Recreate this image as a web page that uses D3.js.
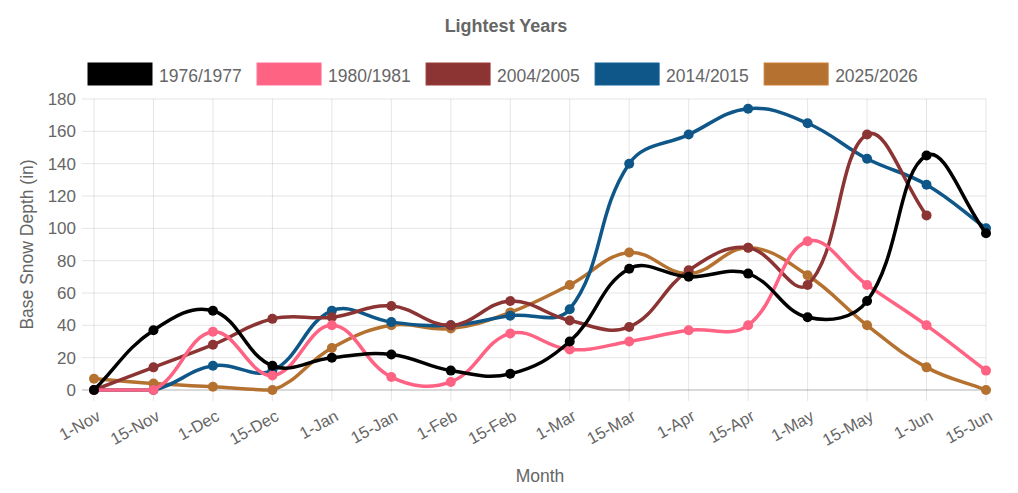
<!DOCTYPE html>
<html>
<head>
<meta charset="utf-8">
<script src="https://cdn.jsdelivr.net/npm/d3@7"></script>
<style>
  body { margin: 0; background: #fff; }
  text { font-family: "Liberation Sans", Arial, Helvetica, sans-serif; fill: #666; }
</style>
</head>
<body>
<svg id="chart" width="1018" height="493"></svg>
<script>
// tick labels along x
var months = ["1-Nov", "15-Nov", "1-Dec", "15-Dec", "1-Jan", "15-Jan", "1-Feb", "15-Feb",
	"1-Mar", "15-Mar", "1-Apr", "15-Apr", "1-May", "15-May", "1-Jun", "15-Jun"];

var seasons = ["1976/1977", "1980/1981", "2004/2005", "2014/2015", "2025/2026"];
var colors = ["#000000", "#ff6384", "#8b3433", "#0e5788", "#b5712f"];

// base depth (in)
var d1976 = [0, 37, 49, 15, 20, 22, 12, 10, 30, 75, 70, 72, 45, 55, 145, 97];
var d1980 = [0, 0, 36, 9, 40, 8, 5, 35, 25, 30, 37, 40, 92, 65, 40, 12];
var d2004 = [0, 14, 28, 44, 45, 52, 40, 55, 43, 39, 74, 88, 65, 158, 108, null];
var d2014 = [0, 0, 15, 12, 49, 42, 40, 46, 50, 140, 158, 174, 165, 143, 127, 100];
var d2025 = [7, 4, 2, 0, 26, 40, 38, 48, 65, 85, 72, 88, 71, 40, 14, 0];

var yTicks = [0, 20, 40, 60, 80, 100, 120, 140, 160, 180];

var series = [d1976, d1980, d2004, d2014, d2025].map(function (vals, i) {
	return { name: seasons[i], color: colors[i], values: vals };
});

var svg = d3.select("#chart");
var pLeft = 94, pRight = 986, pTop = 99, pBottom = 390;

var x = d3.scalePoint().domain(months).range([pLeft, pRight]);
var y = d3.scaleLinear().domain([0, 180]).range([pBottom, pTop]);

// grid
var grid = svg.append("g");
grid.selectAll(".vg").data(months).enter().append("line")
	.attr("x1", function (d) { return x(d); })
	.attr("x2", function (d) { return x(d); })
	.attr("y1", pTop).attr("y2", pBottom + 11)
	.attr("stroke", "rgba(0,0,0,0.1)").attr("stroke-width", 1);
grid.selectAll(".hg").data(yTicks).enter().append("line")
	.attr("x1", pLeft - 12).attr("x2", pRight)
	.attr("y1", function (d) { return y(d); })
	.attr("y2", function (d) { return y(d); })
	.attr("stroke", function (d) { return d === 0 ? "rgba(0,0,0,0.2)" : "rgba(0,0,0,0.1)"; })
	.attr("stroke-width", function (d) { return d === 0 ? 1.5 : 1; });

// axes (labels only, lines come from the grid)
var yAxis = svg.append("g").attr("transform", "translate(" + (pLeft - 18) + ",0)")
	.call(d3.axisLeft(y).tickValues(yTicks).tickSize(0).tickPadding(0));
yAxis.select(".domain").remove();
yAxis.selectAll("text").style("font-size", "17px").attr("fill", "#666");

var xAxis = svg.append("g").attr("transform", "translate(0," + (pBottom + 20) + ")")
	.call(d3.axisBottom(x).tickSize(0).tickPadding(0));
xAxis.select(".domain").remove();
xAxis.selectAll("text")
	.style("font-size", "16.5px").attr("fill", "#666")
	.attr("text-anchor", "end")
	.attr("y", 0).attr("dy", "0.71em").attr("dx", "0.1em")
	.attr("transform", "rotate(-29)");

// titles
svg.append("text").attr("x", 506).attr("y", 32).attr("text-anchor", "middle")
	.style("font-size", "18px").style("font-weight", "bold").text("Lightest Years");
svg.append("text").attr("x", (pLeft + pRight) / 2).attr("y", 482).attr("text-anchor", "middle")
	.style("font-size", "17.5px").text("Month");
svg.append("text").attr("transform", "translate(33," + ((pTop + pBottom) / 2) + ") rotate(-90)")
	.attr("text-anchor", "middle").style("font-size", "17.5px").text("Base Snow Depth (in)");

// chart.js style spline (tension 0.4), control points kept inside the plot
function splinePath(vals) {
	var pts = [];
	vals.forEach(function (v, i) {
		if (v != null) pts.push({ x: x(months[i]), y: y(v) });
	});
	var t = 0.4;
	pts.forEach(function (p, i) {
		var prev = pts[i - 1] || p, next = pts[i + 1] || p;
		var d01 = Math.hypot(p.x - prev.x, p.y - prev.y);
		var d12 = Math.hypot(next.x - p.x, next.y - p.y);
		var s01 = d01 / (d01 + d12) || 0, s12 = d12 / (d01 + d12) || 0;
		var fa = t * s01, fb = t * s12;
		p.cpPrev = { x: p.x - fa * (next.x - prev.x), y: p.y - fa * (next.y - prev.y) };
		p.cpNext = { x: p.x + fb * (next.x - prev.x), y: p.y + fb * (next.y - prev.y) };
		[p.cpPrev, p.cpNext].forEach(function (c) {
			c.x = Math.max(pLeft, Math.min(pRight, c.x));
			c.y = Math.max(pTop, Math.min(pBottom, c.y));
		});
	});
	var path = d3.path();
	pts.forEach(function (p, i) {
		if (i === 0) path.moveTo(p.x, p.y);
		else {
			var a = pts[i - 1];
			path.bezierCurveTo(a.cpNext.x, a.cpNext.y, p.cpPrev.x, p.cpPrev.y, p.x, p.y);
		}
	});
	return path.toString();
}

// lines, first season drawn on top
var plot = svg.append("g");
series.slice().reverse().forEach(function (s) {
	var g = plot.append("g");
	g.append("path").attr("d", splinePath(s.values))
		.attr("fill", "none").attr("stroke", s.color).attr("stroke-width", 3.5);
	g.selectAll("circle").data(s.values.map(function (v, i) { return { v: v, m: months[i] }; })
		.filter(function (d) { return d.v != null; }))
		.enter().append("circle")
		.attr("cx", function (d) { return x(d.m); })
		.attr("cy", function (d) { return y(d.v); })
		.attr("r", 5).attr("fill", s.color);
});

// legend
var legend = svg.append("g");
var lx = 88;
series.forEach(function (s) {
	legend.append("rect").attr("x", lx).attr("y", 63).attr("width", 64).attr("height", 22)
		.attr("fill", s.color).attr("stroke", d3.color(s.color).brighter(0.3)).attr("stroke-width", 1);
	var t = legend.append("text").attr("x", lx + 71).attr("y", 82)
		.style("font-size", "17.5px").text(s.name);
	lx += 71 + t.node().getComputedTextLength() + 15.3;
});
</script>
</body>
</html>
